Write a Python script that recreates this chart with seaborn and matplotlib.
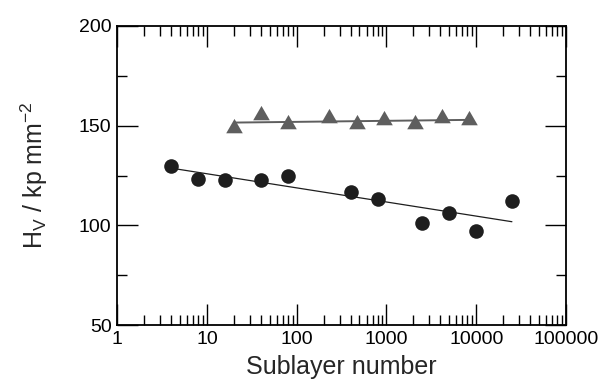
import numpy as np
import pandas as pd
import matplotlib
matplotlib.use("Agg")
import matplotlib.pyplot as plt
import seaborn as sns
from matplotlib.ticker import LogLocator, NullFormatter, FixedLocator, MultipleLocator

# Data
circle_x = [4, 8, 16, 40, 80, 400, 800, 2500, 5000, 10000, 25000]
circle_y = [130, 123.5, 123, 123, 125, 116.5, 113, 101, 106, 97, 112]
tri_x = [20, 40, 80, 230, 470, 950, 2100, 4200, 8400]
tri_y = [148.8, 155.3, 150.8, 154, 151, 152.8, 151, 153.7, 152.8]

x_ticks = [1, 10, 100, 1000, 10000, 100000]
x_tick_labels = ["1", "10", "100", "1000", "10000", "100000"]
y_ticks = [50, 100, 150, 200]

circles = pd.DataFrame({"x": circle_x, "y": circle_y})
tris = pd.DataFrame({"x": tri_x, "y": tri_y})


def log_fit(df):
    # least-squares fit y = a + b*log10(x), evaluated across the data range
    b, a = np.polyfit(np.log10(df["x"]), df["y"], 1)
    gx = np.logspace(np.log10(df["x"].min()), np.log10(df["x"].max()), 50)
    return pd.DataFrame({"x": gx, "y": a + b * np.log10(gx)})


sns.set_style("ticks")
plt.rcParams["font.family"] = ["Liberation Sans", "DejaVu Sans"]
plt.rcParams["mathtext.fontset"] = "custom"
plt.rcParams["mathtext.rm"] = "Liberation Sans"

fig = plt.figure(figsize=(6.04, 3.82), dpi=100)
ax = fig.add_axes([0.194, 0.149, 0.743, 0.783])
ax.set_xscale("log")

black = "#1e1e1e"
gray = "#5e5e5e"

sns.lineplot(data=log_fit(circles), x="x", y="y", color=black, linewidth=0.9, ax=ax)
sns.lineplot(data=log_fit(tris), x="x", y="y", color=gray, linewidth=1.4, ax=ax)

tri_marker = [(0, 0.577), (-0.5, -0.289), (0.5, -0.289)]
sns.scatterplot(data=circles, x="x", y="y", color=black, s=110, marker="o",
                edgecolor=black, linewidth=0, ax=ax, zorder=3)
sns.scatterplot(data=tris, x="x", y="y", color=gray, s=190, marker=tri_marker,
                edgecolor=gray, linewidth=0, ax=ax, zorder=3)

ax.set_xlim(1, 100000)
ax.set_ylim(50, 200)
ax.xaxis.set_major_locator(FixedLocator(x_ticks))
ax.set_xticklabels(x_tick_labels)
ax.xaxis.set_minor_locator(LogLocator(base=10, subs=np.arange(2, 10), numticks=20))
ax.xaxis.set_minor_formatter(NullFormatter())
ax.yaxis.set_major_locator(FixedLocator(y_ticks))
ax.yaxis.set_minor_locator(MultipleLocator(25))

ax.tick_params(which="both", direction="in", top=True, right=True,
               labelsize=14, colors="black", width=1.0, pad=4)
ax.tick_params(which="major", length=15)
ax.tick_params(which="minor", length=7.5)
for sp in ax.spines.values():
    sp.set_linewidth(1.3)
    sp.set_color("black")

ax.set_xlabel("Sublayer number", fontsize=18, labelpad=5)
ax.set_ylabel(r"H$_\mathregular{V}$ / kp mm$^\mathregular{-2}$", fontsize=18, labelpad=21)

fig.savefig("out.png", dpi=100)
